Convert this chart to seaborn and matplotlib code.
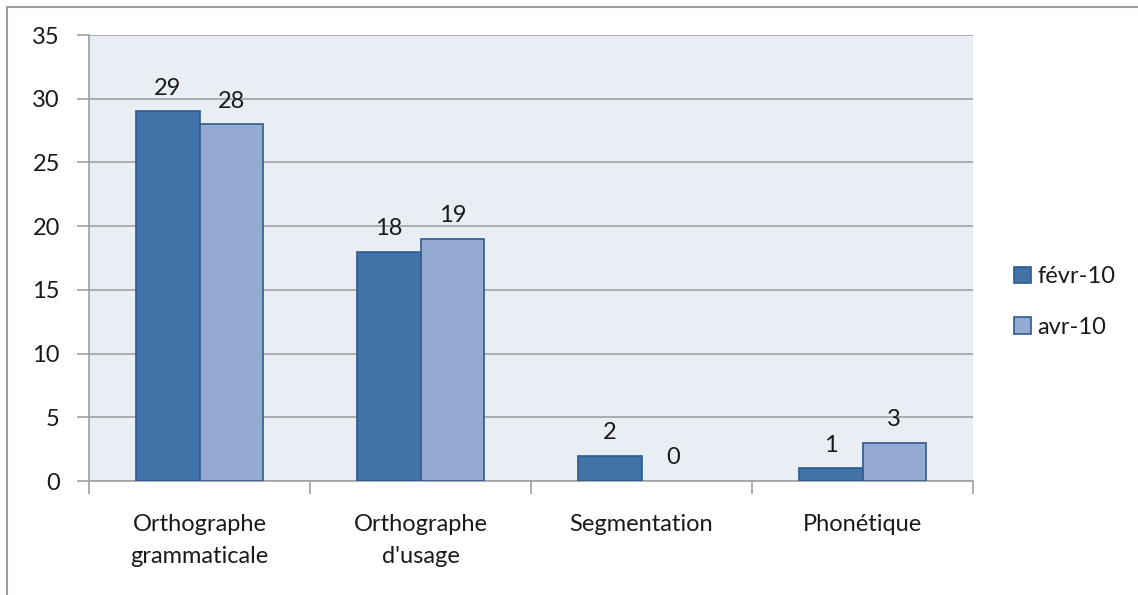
import matplotlib
matplotlib.use("Agg")
import matplotlib.pyplot as plt
from matplotlib.lines import Line2D
from matplotlib.patches import Patch
import seaborn as sns
import pandas as pd

categories = ["Orthographe\ngrammaticale", "Orthographe\nd'usage", "Segmentation", "Phonétique"]
series_names = ["févr-10", "avr-10"]
fevr_values = [29, 18, 2, 1]
avr_values = [28, 19, 0, 3]
y_ticks = [0, 5, 10, 15, 20, 25, 30, 35]

df = pd.DataFrame({
    "cat": categories * 2,
    "serie": [series_names[0]] * 4 + [series_names[1]] * 4,
    "val": fevr_values + avr_values,
})

sns.set_theme(style="white")
plt.rcParams['font.family'] = ['Lato', 'DejaVu Sans']

dark = "#4173A9"
light = "#94AAD1"
edge = "#2E5A8C"
bg = "#E9EEF5"
grid = "#A0A0A0"
txt = "#1a1a1a"
fs = 17

fig = plt.figure(figsize=(11.38, 5.95), dpi=100)
ax = fig.add_axes([89/1138, 1 - 481/595, (973-89)/1138, (481-35)/595])
ax.set_facecolor(bg)

sns.barplot(data=df, x="cat", y="val", hue="serie", order=categories,
            hue_order=series_names, palette=[dark, light], width=0.575,
            edgecolor=edge, linewidth=1.2, saturation=1, ax=ax, legend=False, zorder=3)

for p in ax.patches:
    if p.get_height() == 0:
        p.set_linewidth(0)

ax.set_ylim(0, 35)
ax.set_xlim(-0.5, 3.5)
ax.set_yticks(y_ticks)
ax.yaxis.grid(True, color=grid, linewidth=1.2, zorder=0)
ax.set_axisbelow(True)
ax.set_xlabel("")
ax.set_ylabel("")
for s in ["top", "right"]:
    ax.spines[s].set_visible(False)
for s in ["left", "bottom"]:
    ax.spines[s].set_color(grid)
    ax.spines[s].set_linewidth(1.2)

ax.tick_params(axis="y", which="both", left=True, length=9, width=1.2, color=grid,
               labelsize=fs, labelcolor=txt, pad=12)
ax.set_xticks([0, 1, 2, 3])
ax.set_xticklabels(categories, fontsize=fs, color=txt, linespacing=1.6)
ax.tick_params(axis="x", which="major", bottom=False, pad=18)
ax.set_xticks([-0.5, 0.5, 1.5, 2.5, 3.5], minor=True)
ax.tick_params(axis="x", which="minor", bottom=True, length=9, width=1.2, color=grid)

for cont in ax.containers:
    ax.bar_label(cont, labels=[f"{int(v)}" for v in cont.datavalues], padding=9,
                 fontsize=fs, color=txt)

handles = [Patch(facecolor=dark, edgecolor=edge, linewidth=1.2),
           Patch(facecolor=light, edgecolor=edge, linewidth=1.2)]
fig.legend(handles, series_names, loc="center left", bbox_to_anchor=(1014/1138, 1 - 302/595),
           frameon=False, fontsize=fs, handlelength=0.7, handleheight=0.7,
           handletextpad=0.3, labelspacing=1.25, labelcolor=txt, borderaxespad=0, borderpad=0)

# outer frame (top and left visible)
fig.add_artist(Line2D([7/1138, 1.0], [1 - 7/595, 1 - 7/595], transform=fig.transFigure,
                      color="#9C9C9C", linewidth=1.5))
fig.add_artist(Line2D([7/1138, 7/1138], [0, 1 - 7/595], transform=fig.transFigure,
                      color="#9C9C9C", linewidth=1.5))

fig.savefig("out.png", dpi=100, facecolor="white")
